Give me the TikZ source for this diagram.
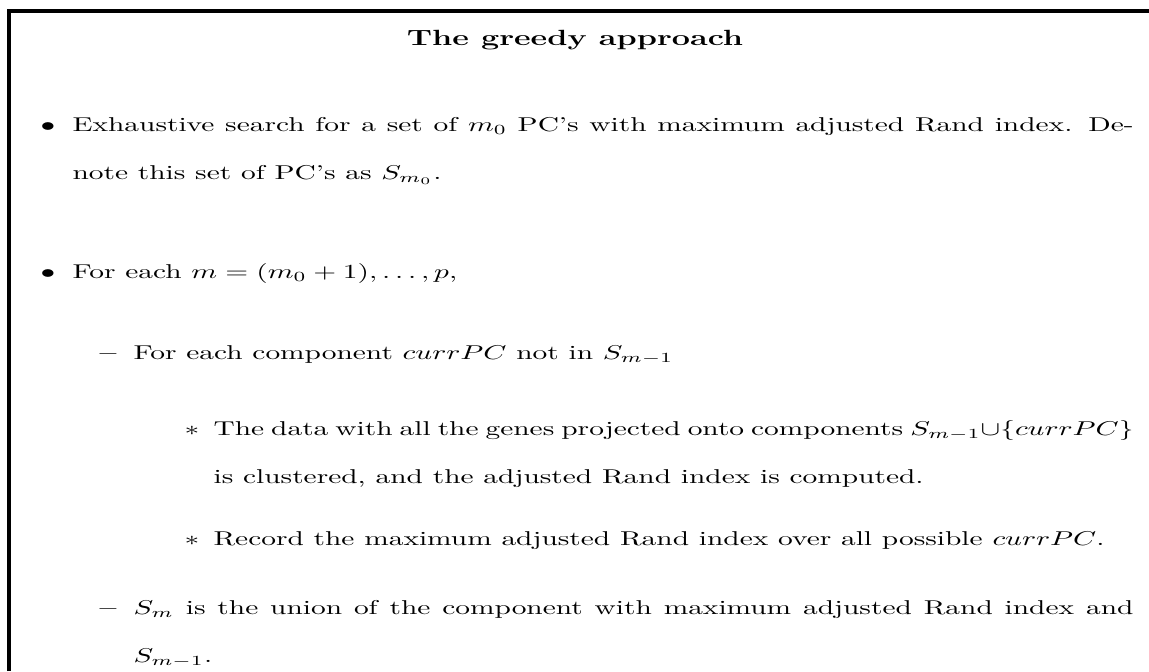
\documentclass[tikz,border=0pt]{standalone}
\begin{document}
\begin{tikzpicture}[x=0.34014pt,y=-0.5pt,xscale=1.47,
  every node/.style={transform shape,inner sep=0pt,font=\fontsize{10}{24}\selectfont},
  itemmark/.style={anchor=base},
  item/.style={anchor=base west},
  para/.style={anchor=base west,align=justify,text width=#1}]
\useasboundingbox (0,0) rectangle (1149,671);
\draw[line width=1.6pt] (9,671) -- (9,11) -- (1149,11);

\node[anchor=base,font=\fontsize{11}{24}\selectfont\bfseries] (title) at (575,45) {The greedy approach};

\node[itemmark] (dot1) at (48,131) {$\bullet$};
\node[para=360.9pt] (search) at (72,131) {Exhaustive search for a set of $m_0$ PC's with maximum adjusted Rand index. De-\linebreak note this set of PC's as $S_{m_0}$.};

\node[itemmark] (dot2) at (48,278) {$\bullet$};
\node[item] (loop) at (72,278) {For each $m=(m_0+1),\ldots,p$,};

\node[itemmark,font=\fontsize{10}{24}\selectfont\bfseries] (dash1) at (108,359) {--};
\node[item] (inner) at (133,359) {For each component $currPC$ not in $S_{m-1}$};

\node[itemmark] (star1) at (192,435) {$\ast$};
\node[para=312.9pt] (cluster) at (213,435) {The data with all the genes projected onto components $S_{m-1}{\cup}\{currPC\}$\linebreak is clustered, and the adjusted Rand index is computed.};

\node[itemmark] (star2) at (192,545) {$\ast$};
\node[item] (record) at (213,545) {Record the maximum adjusted Rand index over all possible $currPC$.};

\node[itemmark,font=\fontsize{10}{24}\selectfont\bfseries] (dash2) at (108,614) {--};
\node[para=340.1pt] (union) at (133,614) {$S_m$ is the union of the component with maximum adjusted Rand index and\linebreak $S_{m-1}$.};
\end{tikzpicture}
\end{document}
